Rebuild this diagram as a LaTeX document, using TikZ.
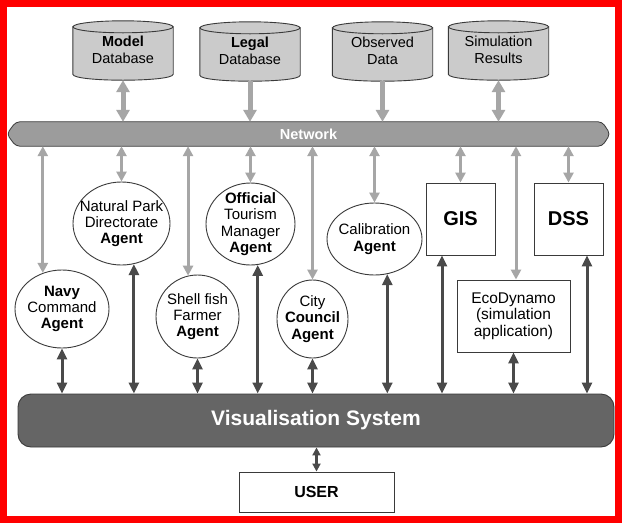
\documentclass[tikz,border=0pt]{standalone}
\usepackage{fontspec}
\setmainfont{Liberation Sans}
\usetikzlibrary{arrows.meta,calc,shapes.geometric}
\pgfdeclarelayer{background}
\pgfsetlayers{background,main}

\definecolor{dbfill}{HTML}{CBCBCB}
\definecolor{netfill}{HTML}{9C9C9C}
\definecolor{visfill}{HTML}{656565}
\definecolor{ltarrow}{HTML}{A6A6A6}
\definecolor{dkarrow}{HTML}{4A4A4A}
\definecolor{edge}{HTML}{3A3A3A}

% Drum-shaped database drawn around a (rectangular) node
\newcommand\dbdrum[1]{%
  \path[dbshape] ($(#1.north west)+(0,7)$) -- ($(#1.south west)+(0,-6)$)
     .. controls ($(#1.south west)+(0,2)$) and ($(#1.south east)+(0,2)$) .. ($(#1.south east)+(0,-6)$)
     -- ($(#1.north east)+(0,7)$) -- cycle;
  \path[dbshape] ($(#1.north)+(0,7)$) ellipse [x radius=50, y radius=6];}

\tikzset{
  every node/.style={inner sep=0pt, align=center},
  dbnode/.style={rectangle, minimum width=100, minimum height=60,
                 font=\fontsize{14.5}{16.5}\selectfont},
  dbshape/.style={fill=dbfill, draw=edge, line width=0.9pt},
  agent/.style={ellipse, draw=edge, fill=white, line width=0.9pt},
  agenttext/.style={font=\fontsize{15}{16.3}\selectfont, align=center},
  toolbox/.style={rectangle, draw=edge, fill=white, line width=0.9pt},
  light/.style={draw=ltarrow, line width=3pt,
    arrows={Triangle[width=10pt,length=10pt]-Triangle[width=10pt,length=10pt]}},
  feed/.style={draw=ltarrow, line width=5pt,
    arrows={-Triangle[width=13pt,length=12pt]}},
  dblink/.style={draw=ltarrow, line width=5pt,
    arrows={Triangle[width=13pt,length=12pt]-Triangle[width=13pt,length=12pt]}},
  dark/.style={draw=dkarrow, line width=3pt,
    arrows={Triangle[width=10pt,length=11pt]-Triangle[width=10pt,length=11pt]}},
}

\begin{document}
\begin{tikzpicture}[x=1pt, y=-1pt]
\useasboundingbox (0,0) rectangle (622,523);

% data stores
\node[dbnode] (mdb) at (123,50)   {\textbf{Model}\\Database};
\node[dbnode] (ldb) at (250,51)   {\textbf{Legal}\\Database};
\node[dbnode] (odb) at (382.5,51) {Observed\\Data};
\node[dbnode] (sdb) at (498.5,50) {Simulation\\Results};

% network bus
\node[minimum width=603, minimum height=24, text=white,
      font=\bfseries\fontsize{14.5}{16}\selectfont] (net) at (308.5,134) {Network};

% agents
\node[agent, minimum width=94, minimum height=78,
      label={[agenttext]center:{\textbf{Navy}\\Command\\\textbf{Agent}}}] (navy) at (62,309) {};
\node[agent, minimum width=97, minimum height=83,
      label={[agenttext]center:{Natural Park\\Directorate\\\textbf{Agent}}}] (npark) at (121.5,223.5) {};
\node[agent, minimum width=83, minimum height=83,
      label={[agenttext]center:{Shell fish\\Farmer\\\textbf{Agent}}}] (shell) at (197.5,316.5) {};
\node[agent, minimum width=89, minimum height=82,
      label={[agenttext]center:{\textbf{Official}\\Tourism\\Manager\\\textbf{Agent}}}] (otour) at (250.5,224) {};
\node[agent, minimum width=71, minimum height=78,
      label={[agenttext]center:{City\\\textbf{Council}\\\textbf{Agent}}}] (city) at (312.5,319) {};
\node[agent, minimum width=95, minimum height=72,
      label={[agenttext]center:{Calibration\\\textbf{Agent}}}] (calib) at (374.5,239) {};

% applications
\node[toolbox, minimum width=69, minimum height=72,
      font=\bfseries\fontsize{20}{22}\selectfont] (gis) at (460.5,219) {GIS};
\node[toolbox, minimum width=69, minimum height=72,
      font=\bfseries\fontsize{20}{22}\selectfont] (dss) at (568.5,219) {DSS};
\node[toolbox, minimum width=113, minimum height=72,
      font=\fontsize{15.5}{16.5}\selectfont] (eco) at (513.5,316) {EcoDynamo\\(simulation\\application)};

% visualisation and user
\node[rectangle, rounded corners=13pt, fill=visfill, draw=edge, line width=0.9pt,
      minimum width=596, minimum height=53, text=white,
      font=\bfseries\fontsize{21}{24}\selectfont] (vis) at (316,420.5) {Visualisation System};
\node[toolbox, minimum width=155, minimum height=40,
      font=\bfseries\fontsize{16}{18}\selectfont] (user) at (316.5,492) {USER};

\begin{pgfonlayer}{background}
  \fill[white] (0,0) rectangle (622,523);
  \dbdrum{mdb}\dbdrum{ldb}\dbdrum{odb}\dbdrum{sdb}
  \path[fill=netfill, draw=edge, line width=0.8pt, rounded corners=4pt]
    (net.west) -- ($(net.north west)+(9,0)$) -- ($(net.north east)+(-8,0)$)
    -- (net.east) -- ($(net.south east)+(-8,0)$) -- ($(net.south west)+(9,0)$) -- cycle;
\end{pgfonlayer}

% frame
\draw[red, line width=6.5pt] (3.25,3.5) rectangle (618.5,519.5);

% stores to network
\draw[dblink] (mdb.south) -- (mdb.south |- net.north);
\draw[feed]   (ldb.south) -- (ldb.south |- net.north);
\draw[feed]   (odb.south) -- (odb.south |- net.north);
\draw[dblink] (sdb.south) -- (sdb.south |- net.north);

% network to agents and applications
\draw[light] (navy.118) -- (navy.118 |- net.south);
\draw[light] (npark.north) -- (npark.north |- net.south);
\draw[light] (shell.103) -- (shell.103 |- net.south);
\draw[light] (otour.north) -- (otour.north |- net.south);
\draw[light] (city.north) -- (city.north |- net.south);
\draw[light] (calib.north) -- (calib.north |- net.south);
\draw[light] (gis.north) -- (gis.north |- net.south);
\draw[light] ([xshift=2.5pt]eco.north) -- ([xshift=2.5pt]eco.north |- net.south);
\draw[light] (dss.north) -- (dss.north |- net.south);

% agents and applications to visualisation
\draw[dark] (navy.south) -- (navy.south |- vis.north);
\draw[dark] (npark.-73) -- (npark.-73 |- vis.north);
\draw[dark] (shell.south) -- (shell.south |- vis.north);
\draw[dark] (otour.-80) -- (otour.-80 |- vis.north);
\draw[dark] (city.south) -- (city.south |- vis.north);
\draw[dark] (calib.-70) -- (calib.-70 |- vis.north);
\draw[dark] ([xshift=-18.5pt]gis.south) -- ([xshift=-18.5pt]gis.south |- vis.north);
\draw[dark] (eco.south) -- (eco.south |- vis.north);
\draw[dark] ([xshift=18.5pt]dss.south) -- ([xshift=18.5pt]dss.south |- vis.north);

% visualisation to user
\draw[dark, line width=2.5pt,
      arrows={Triangle[width=8pt,length=8pt]-Triangle[width=8pt,length=8pt]}]
      (user.north) -- (user.north |- vis.south);
\end{tikzpicture}
\end{document}
